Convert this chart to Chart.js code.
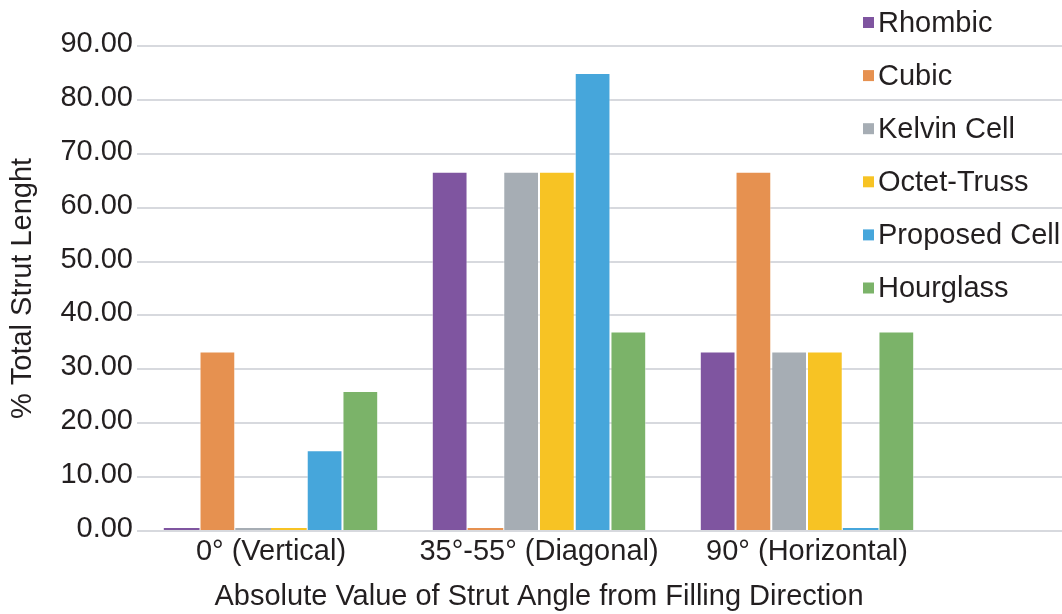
<!DOCTYPE html>
<html>
<head>
<meta charset="utf-8">
<script src="https://cdn.jsdelivr.net/npm/chart.js@4.4.1/dist/chart.umd.min.js"></script>
<style>
  html, body { margin: 0; padding: 0; background: #fff; overflow: hidden; }
  #wrap { width: 1062px; height: 614px; }
</style>
</head>
<body>
<div id="wrap"><canvas id="chart" width="1062" height="614"></canvas></div>
<script>
const angleLabels = ['0° (Vertical)', '35°-55° (Diagonal)', '90° (Horizontal)']
const cellNames = ['Rhombic', 'Cubic', 'Kelvin Cell', 'Octet-Truss', 'Proposed Cell', 'Hourglass']
const cellColors = ['#7F55A0', '#E69150', '#A6ADB4', '#F7C324', '#46A6DB', '#7BB369']

// % of total strut length per angle band
const rhombic = [0, 66.67, 33.33]
const cubic = [33.33, 0, 66.67]
const kelvinCell = [0, 66.67, 33.33]
const octetTruss = [0, 66.67, 33.33]
const proposedCell = [15, 85, 0]
const hourglass = [26, 37, 37]

const yTicks = [0, 10, 20, 30, 40, 50, 60, 70, 80, 90]

const seriesValues = [rhombic, cubic, kelvinCell, octetTruss, proposedCell, hourglass]
const textColor = '#231F20'
const gridColor = '#D7D9DE'
const fontFamily = '"Liberation Sans", Arial, sans-serif'

// gridlines keep running under the legend to the right edge
const extendGrid = {
  id: 'extendGrid',
  beforeDatasetsDraw(chart) {
    const { ctx, chartArea } = chart
    const y = chart.scales.y
    ctx.save()
    ctx.strokeStyle = gridColor
    ctx.lineWidth = 2
    y.ticks.forEach(t => {
      const py = Math.round(y.getPixelForValue(t.value))
      ctx.beginPath()
      ctx.moveTo(chartArea.right, py)
      ctx.lineTo(chart.width, py)
      ctx.stroke()
    })
    ctx.restore()
  }
}

const squareLegend = {
  id: 'squareLegend',
  afterDraw(chart) {
    const { ctx } = chart
    ctx.save()
    ctx.font = '29px ' + fontFamily
    ctx.textBaseline = 'middle'
    ctx.textAlign = 'left'
    chart.data.datasets.forEach((ds, i) => {
      const cy = 22.5 + i * 53.1
      ctx.fillStyle = ds.backgroundColor
      ctx.fillRect(863, cy - 5.5, 11, 11)
      ctx.fillStyle = textColor
      ctx.fillText(ds.label, 878, cy + 1)
    })
    ctx.restore()
  }
}

new Chart(document.getElementById('chart'), {
  type: 'bar',
  data: {
    labels: angleLabels,
    datasets: cellNames.map((name, i) => ({
      label: name,
      data: seriesValues[i],
      backgroundColor: cellColors[i],
      borderColor: 'rgba(255,255,255,0.45)',
      // zero bars are just a coloured sliver on the axis
      borderWidth: c => (c.raw === 0 ? 0 : 1),
      minBarLength: 3,
      categoryPercentage: 0.8,
      barPercentage: 1.0
    }))
  },
  options: {
    responsive: false,
    animation: false,
    layout: { padding: { top: 46, right: 121, bottom: 0, left: 0 } },
    plugins: {
      legend: { display: false },
      tooltip: { enabled: false }
    },
    scales: {
      x: {
        grid: { display: false, drawTicks: false },
        border: { display: false },
        ticks: { color: textColor, font: { size: 29, family: fontFamily }, padding: 4, maxRotation: 0 },
        title: {
          display: true,
          text: 'Absolute Value of Strut Angle from Filling Direction',
          color: textColor,
          font: { size: 29, family: fontFamily },
          padding: { top: 0, bottom: 0 }
        },
        afterFit(scale) { scale.height = 83 }
      },
      y: {
        min: 0,
        max: 90,
        afterBuildTicks(scale) { scale.ticks = yTicks.map(v => ({ value: v })) },
        grid: { color: gridColor, lineWidth: 2, drawTicks: false },
        border: { display: false },
        ticks: {
          color: textColor,
          font: { size: 29, family: fontFamily },
          padding: 4,
          labelOffset: -2,
          callback: v => v.toFixed(2)
        },
        title: {
          display: true,
          text: '% Total Strut Lenght',
          color: textColor,
          font: { size: 29, family: fontFamily },
          padding: { top: 6, bottom: 0 }
        },
        afterFit(scale) { scale.width = 137 }
      }
    }
  },
  plugins: [extendGrid, squareLegend]
})
</script>
</body>
</html>
